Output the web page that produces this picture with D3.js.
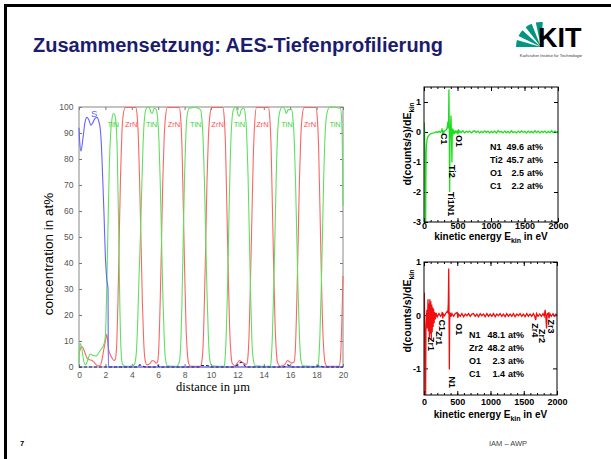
<!DOCTYPE html>
<html>
<head>
<meta charset="utf-8">
<script src="https://cdn.jsdelivr.net/npm/d3@7"></script>
<style>
    body { margin: 0; background: #fff; }
    svg { display: block; font-family: "Liberation Sans", Arial, sans-serif; }
</style>
</head>
<body>
<svg id="slide" width="611" height="459"></svg>
<script>
// ---- depth profile (concentration in at% vs distance in µm) ----
const depthTicks = [0, 2, 4, 6, 8, 10, 12, 14, 16, 18, 20];
const concTicks = [0, 10, 20, 30, 40, 50, 60, 70, 80, 90, 100];

const tinProfile = [
    [0, 1.5], [0.08, 9], [0.2, 7.5], [0.35, 2.5], [0.5, 0.8], [0.65, 2.5], [0.85, 5], [1.05, 4.5], [1.3, 4.2],
    [1.5, 5.5], [1.7, 7], [1.9, 9], [2.0, 12], [2.1, 30], [2.2, 55], [2.3, 78], [2.4, 90], [2.5, 95.5],
    [2.6, 97.5], [2.7, 97], [2.8, 94], [2.9, 82], [3.0, 55], [3.1, 22], [3.2, 5], [3.3, 1], [3.5, 0.3],
    [4.0, 0.3], [4.2, 1], [4.35, 6], [4.45, 18], [4.55, 35], [4.65, 50], [4.75, 68], [4.85, 85], [4.95, 95],
    [5.1, 99.5], [5.3, 100], [5.45, 98], [5.55, 97.5], [5.7, 99.5], [5.85, 99], [5.95, 96], [6.05, 88],
    [6.15, 72], [6.25, 50], [6.35, 28], [6.45, 12], [6.55, 3], [6.7, 0.5], [7.4, 0.3], [7.6, 2], [7.7, 8],
    [7.8, 25], [7.9, 50], [8.0, 74], [8.1, 90], [8.2, 97], [8.35, 99.5], [8.8, 99.8], [9.2, 99], [9.3, 96],
    [9.4, 88], [9.5, 72], [9.6, 50], [9.7, 28], [9.8, 12], [9.9, 3], [10.05, 0.5], [11.0, 0.3], [11.05, 2],
    [11.15, 12], [11.25, 30], [11.35, 55], [11.45, 78], [11.55, 92], [11.7, 99], [11.9, 100], [12.05, 97],
    [12.15, 96.5], [12.3, 99], [12.5, 99.5], [12.6, 97], [12.7, 90], [12.8, 75], [12.9, 52], [13.0, 28],
    [13.1, 10], [13.2, 3], [13.35, 0.5], [14.5, 0.3], [14.55, 2], [14.65, 12], [14.75, 30], [14.85, 52],
    [14.95, 75], [15.05, 90], [15.2, 98], [15.4, 100], [15.6, 99], [15.7, 97.5], [15.85, 99], [16.1, 99],
    [16.2, 96], [16.3, 88], [16.4, 72], [16.5, 50], [16.6, 28], [16.7, 12], [16.8, 3], [16.95, 0.5],
    [18.1, 0.3], [18.15, 2], [18.25, 12], [18.35, 30], [18.45, 52], [18.55, 75], [18.65, 90], [18.8, 98],
    [19.0, 100], [19.8, 99.5], [19.9, 95], [19.95, 85], [20.0, 62]
];

const zrnProfile = [
    [0, 5], [0.1, 7], [0.2, 8], [0.3, 7.5], [0.45, 5.5], [0.6, 3.5], [0.8, 2.8], [1.0, 2.5], [1.2, 1.5],
    [1.4, 0.5], [1.6, 0.5], [1.75, 3], [1.85, 6], [2.0, 10], [2.1, 12.5], [2.15, 11], [2.22, 7.5], [2.35, 5],
    [2.5, 3.5], [2.65, 2.5], [2.75, 3], [2.85, 8], [2.95, 25], [3.05, 50], [3.15, 74], [3.25, 90], [3.35, 97],
    [3.5, 99.8], [4.3, 99.8], [4.4, 97], [4.5, 88], [4.6, 70], [4.7, 48], [4.8, 25], [4.9, 10], [5.0, 3],
    [5.15, 0.8], [5.4, 1.5], [5.55, 2.5], [5.7, 2.2], [5.85, 1.5], [5.95, 2], [6.05, 8], [6.15, 25],
    [6.25, 48], [6.35, 72], [6.45, 88], [6.55, 96], [6.7, 99.8], [7.6, 99.8], [7.7, 96], [7.8, 85], [7.9, 62],
    [8.0, 38], [8.1, 17], [8.2, 6], [8.3, 1.5], [8.45, 0.3], [9.2, 0.3], [9.3, 2], [9.4, 8], [9.5, 25],
    [9.6, 48], [9.7, 72], [9.8, 88], [9.9, 96], [10.05, 99.8], [10.9, 99.8], [11.0, 96], [11.1, 85],
    [11.2, 62], [11.3, 38], [11.4, 17], [11.5, 6], [11.6, 1.5], [11.8, 0.5], [12.0, 1.5], [12.15, 2.5],
    [12.3, 2], [12.45, 1.5], [12.7, 1], [12.8, 4], [12.9, 15], [13.0, 35], [13.1, 58], [13.2, 80], [13.3, 93],
    [13.45, 99.8], [14.35, 99.8], [14.45, 96], [14.55, 85], [14.65, 62], [14.75, 38], [14.85, 17], [14.95, 6],
    [15.05, 1.5], [15.25, 0.3], [15.6, 1], [15.8, 2.5], [15.95, 2], [16.1, 1.5], [16.3, 2], [16.4, 8],
    [16.5, 25], [16.6, 48], [16.7, 72], [16.8, 88], [16.9, 96], [17.05, 99.8], [17.95, 99.8], [18.05, 96],
    [18.15, 85], [18.25, 62], [18.35, 38], [18.45, 17], [18.55, 6], [18.65, 1.5], [18.8, 0.3], [19.7, 0.3],
    [19.8, 3], [19.9, 15], [20.0, 35]
];

const substrateProfile = [
    [0, 92], [0.05, 87], [0.15, 83], [0.3, 88], [0.45, 94], [0.6, 96], [0.75, 95], [0.9, 93], [1.05, 94],
    [1.2, 95.5], [1.35, 96], [1.5, 94.5], [1.6, 92], [1.7, 85], [1.8, 72], [1.9, 58], [2.0, 42], [2.1, 34],
    [2.2, 30], [2.22, 0], [20, 0]
];

const traceProfile = [
    [0, 0], [4.4, 0], [4.6, 0.8], [4.8, 0.5], [5.0, 0], [5.8, 0], [5.95, 0.7], [6.1, 0], [9.1, 0], [9.3, 0.6],
    [9.8, 0.5], [10.0, 0], [11.7, 0], [12.0, 0.8], [12.3, 1.8], [12.5, 0.8], [12.7, 0], [15.5, 0], [15.8, 0.8],
    [16.1, 0], [17.9, 0], [18.2, 0.5], [18.5, 0], [20, 0]
];

const tinLabelDepths = [2.6, 5.5, 8.85, 12.15, 15.75, 19.4];
const zrnLabelDepths = [3.95, 7.2, 10.5, 13.9, 17.5];

// ---- AES spectra, d(counts/s)/dE vs kinetic energy in eV ----
const energyTicks = [0, 500, 1000, 1500, 2000];
const tinDerivTicks = [-3, -2, -1, 0, 1];
const zrnDerivTicks = [-1, 0, 1];

const tinSpectrum = [
    [0, 0], [4, 0.32], [8, 0.05], [12, -0.6], [16, -2.2], [20, -3.2], [24, -3.2], [28, -1.6], [32, -0.7],
    [38, -0.4], [46, -0.25], [56, -0.17], [70, -0.12], [85, -0.08], [100, -0.06], [125, -0.04], [150, -0.03],
    [180, 0.01], [200, -0.02], [225, 0.02], [245, -0.01], [262, 0.04], [270, 0.12], [276, -0.06], [284, 0.05],
    [295, -0.02], [310, 0.04], [325, 0.06], [340, 0.1], [350, 0.2], [356, 0.35], [362, 0.12], [367, 0.3],
    [372, 1.42], [377, 0.2], [383, -2.0], [388, -0.25], [395, 0.1], [403, 0.55], [408, 0.05], [417, -1.02],
    [421, -0.2], [426, 0.12], [431, -0.12], [437, 0.08], [444, -0.06], [452, 0.04], [462, -0.03], [475, 0.03],
    [488, -0.02], [500, 0.05], [507, -0.08], [513, 0.09], [520, -0.03], [530, 0.03], [555, -0.02], [580, 0.04],
    [605, -0.03], [630, 0.02], [655, -0.01], [680, 0.03], [705, -0.03], [730, 0.02], [755, 0.04], [780, -0.02],
    [805, 0.03], [830, -0.03], [855, 0.02], [880, -0.02], [905, 0.04], [930, -0.01], [955, 0.03], [980, -0.03],
    [1005, 0.02], [1030, -0.02], [1055, 0.03], [1080, -0.03], [1105, 0.04], [1130, -0.01], [1155, 0.02],
    [1180, -0.03], [1205, 0.03], [1230, -0.02], [1255, 0.02], [1280, -0.03], [1305, 0.04], [1330, -0.02],
    [1355, 0.01], [1380, -0.03], [1405, 0.03], [1430, -0.02], [1455, 0.04], [1480, -0.01], [1505, 0.02],
    [1530, -0.03], [1555, 0.03], [1580, -0.02], [1605, 0.02], [1630, -0.03], [1655, 0.04], [1680, -0.02],
    [1705, 0.03], [1730, -0.03], [1755, 0.02], [1780, -0.01], [1805, 0.03], [1830, -0.03], [1855, 0.02],
    [1880, -0.02], [1905, 0.04], [1930, -0.02], [1955, 0.03], [1980, -0.02], [2000, 0.02]
];

const zrnSpectrum = [
    [0, 0], [4, 0.42], [8, 0.1], [12, -0.5], [17, -1.6], [24, -1.6], [29, -0.3], [36, -0.05], [44, 0.1],
    [52, -0.25], [60, 0.3], [67, -0.3], [74, 0.22], [81, -0.42], [88, 0.3], [95, -0.35], [102, 0.26],
    [109, -0.45], [116, 0.2], [123, -0.32], [130, 0.15], [137, -0.22], [144, 0.12], [152, -0.15], [160, 0.06],
    [170, -0.08], [182, 0.04], [200, -0.03], [225, 0.03], [250, -0.02], [268, 0.02], [275, 0.06], [282, -0.06],
    [292, 0.02], [310, -0.01], [330, 0.04], [348, 0.07], [360, 0.05], [366, 0.25], [372, 0.88], [376, 0.2],
    [381, -1.02], [386, -0.1], [394, 0.05], [405, -0.03], [420, 0.03], [445, -0.02], [470, 0.03], [500, 0.05],
    [508, -0.05], [520, 0.02], [545, -0.02], [570, 0.03], [595, -0.03], [620, 0.02], [645, -0.01], [670, 0.03],
    [695, -0.02], [720, 0.02], [745, 0.03], [770, -0.02], [795, 0.02], [820, -0.03], [845, 0.03], [870, -0.01],
    [895, 0.02], [920, -0.03], [945, 0.03], [970, -0.02], [995, 0.02], [1020, -0.02], [1045, 0.03],
    [1070, -0.03], [1095, 0.02], [1120, -0.01], [1145, 0.03], [1170, -0.02], [1195, 0.02], [1220, -0.03],
    [1245, 0.03], [1270, -0.02], [1295, 0.02], [1320, -0.02], [1345, 0.03], [1370, -0.03], [1395, 0.02],
    [1420, -0.01], [1445, 0.03], [1470, -0.02], [1495, 0.02], [1520, -0.03], [1545, 0.03], [1570, -0.02],
    [1595, 0.02], [1620, -0.02], [1645, 0.03], [1665, -0.02], [1680, -0.09], [1692, 0.03], [1715, -0.02],
    [1740, 0.02], [1765, -0.02], [1790, 0.03], [1808, -0.02], [1822, 0.1], [1832, -0.02], [1843, -0.25],
    [1852, 0.02], [1868, 0.04], [1880, -0.06], [1892, 0.03], [1915, -0.02], [1940, 0.03], [1965, -0.02],
    [1985, 0.02], [2000, 0.01]
];

// peak labels: [name, energy (eV), value at top of label]
const tinPeakLabels = [['C1', 239, -0.03], ['O1', 463, -0.1], ['Ti2', 358, -1.1], ['Ti1N1', 343, -2.0]];
const zrnPeakLabels = [
    ['Zr1', 45, -0.41], ['Zr1', 165, -0.3], ['C1', 210, -0.08], ['O1', 466, -0.15], ['N1', 361, -1.15],
    ['Zr4', 1609, -0.15], ['Zr2', 1714, -0.26], ['Zr3', 1850, -0.08]
];

const tinComposition = [['N1', '49.6'], ['Ti2', '45.7'], ['O1', '2.5'], ['C1', '2.2']];
const zrnComposition = [['N1', '48.1'], ['Zr2', '48.2'], ['O1', '2.3'], ['C1', '1.4']];


let svg = d3.select('#slide');

// slide frame and header
svg.append('path')
    .attr('d', 'M5.5,459 V5.5 H611')
    .attr('fill', 'none')
    .attr('stroke', '#000')
    .attr('stroke-width', 3);

svg.append('text')
    .attr('x', 33)
    .attr('y', 52)
    .attr('font-size', 20)
    .attr('font-weight', 'bold')
    .attr('fill', '#1c1c6e')
    .text('Zusammensetzung: AES-Tiefenprofilierung');

// KIT logo
let logo = svg.append('g');
let fanAngles = [[180, 196], [206, 222], [232, 248], [258, 274]];
let apex = [541, 47];
fanAngles.forEach(([a0, a1]) => {
    let r = 25;
    let p0 = [apex[0] + r * Math.cos(a0 * Math.PI / 180), apex[1] + r * Math.sin(a0 * Math.PI / 180)];
    let p1 = [apex[0] + r * Math.cos(a1 * Math.PI / 180), apex[1] + r * Math.sin(a1 * Math.PI / 180)];
    logo.append('path')
        .attr('d', 'M' + apex + ' L' + p0 + ' A' + [r, r] + ' 0 0 1 ' + p1 + ' Z')
        .attr('fill', '#009682');
});
logo.append('text')
    .attr('x', 538)
    .attr('y', 47)
    .attr('font-size', 27)
    .attr('font-weight', 'bold')
    .attr('fill', '#000')
    .text('KIT');
logo.append('text')
    .attr('x', 551)
    .attr('y', 56.5)
    .attr('font-size', 4.2)
    .attr('text-anchor', 'middle')
    .attr('fill', '#333')
    .text('Karlsruher Institut für Technologie');

// footer
svg.append('text')
    .attr('x', 20).attr('y', 446)
    .attr('font-size', 7.5).attr('font-weight', 'bold')
    .text('7');
svg.append('text')
    .attr('x', 489).attr('y', 446)
    .attr('font-size', 7.5).attr('fill', '#444')
    .text('IAM – AWP');


// ---- depth profile chart ----
let main = {left: 79, right: 343, top: 107, bottom: 367};
let xDepth = d3.scaleLinear().domain([0, 20]).range([main.left, main.right]);
let yConc = d3.scaleLinear().domain([0, 100]).range([main.bottom, main.top]);

let styleMainAxis = (g) => {
    g.select('.domain').remove();
    g.selectAll('line').attr('stroke', '#777');
    g.selectAll('text')
        .attr('fill', '#555')
        .attr('font-size', 8.5)
        .attr('font-family', '"Liberation Sans Narrow", "Liberation Sans", Arial, sans-serif');
};

svg.append('g')
    .attr('transform', 'translate(0,' + main.bottom + ')')
    .call(d3.axisBottom(xDepth).tickValues(depthTicks).tickSizeInner(-3).tickSizeOuter(0).tickPadding(4.5))
    .call(styleMainAxis);
svg.append('g')
    .attr('transform', 'translate(0,' + main.top + ')')
    .call(d3.axisTop(xDepth).tickValues(depthTicks).tickSizeInner(-3).tickSizeOuter(0).tickFormat(''))
    .call(styleMainAxis);
svg.append('g')
    .attr('transform', 'translate(' + main.left + ',0)')
    .call(d3.axisLeft(yConc).tickValues(concTicks).tickSizeInner(-3).tickSizeOuter(0).tickPadding(5.5))
    .call(styleMainAxis);
svg.append('g')
    .attr('transform', 'translate(' + main.right + ',0)')
    .call(d3.axisRight(yConc).tickValues(concTicks).tickSizeInner(-3).tickSizeOuter(0).tickFormat(''))
    .call(styleMainAxis);

svg.append('rect')
    .attr('x', main.left).attr('y', main.top)
    .attr('width', main.right - main.left).attr('height', main.bottom - main.top)
    .attr('fill', 'none').attr('stroke', '#888');

let profileLine = d3.line()
    .x(d => xDepth(d[0]))
    .y(d => yConc(d[1]))
    .curve(d3.curveMonotoneX);

[[zrnProfile, '#ff6464'], [tinProfile, '#5fe05f'], [substrateProfile, '#6464ff']].forEach(([data, color]) => {
    svg.append('path')
        .datum(data)
        .attr('d', profileLine)
        .attr('fill', 'none')
        .attr('stroke', color)
        .attr('stroke-width', 1.1);
});
svg.append('path')
    .datum(traceProfile)
    .attr('d', profileLine)
    .attr('fill', 'none')
    .attr('stroke', '#1a1a8c')
    .attr('stroke-width', 1.1)
    .attr('stroke-dasharray', '3,2');

// phase labels
svg.append('text')
    .attr('x', xDepth(1.14)).attr('y', yConc(97.5))
    .attr('dy', '0.35em')
    .attr('text-anchor', 'middle')
    .attr('font-size', 9.5)
    .attr('fill', '#6464ff')
    .text('S');
svg.selectAll('.tin-label')
    .data(tinLabelDepths)
    .enter()
    .append('text')
    .attr('x', d => xDepth(d)).attr('y', yConc(93.5))
    .attr('dy', '0.35em')
    .attr('text-anchor', 'middle')
    .attr('font-size', 7.5)
    .attr('fill', '#3cd43c')
    .text('TiN');
svg.selectAll('.zrn-label')
    .data(zrnLabelDepths)
    .enter()
    .append('text')
    .attr('x', d => xDepth(d)).attr('y', yConc(93.5))
    .attr('dy', '0.35em')
    .attr('text-anchor', 'middle')
    .attr('font-size', 7.5)
    .attr('fill', '#ff5050')
    .text('ZrN');

// axis titles
svg.append('text')
    .attr('transform', 'translate(213,391)')
    .attr('text-anchor', 'middle')
    .attr('font-family', '"Liberation Serif", "Times New Roman", serif')
    .attr('font-size', 12.5)
    .text('distance in µm');
svg.append('text')
    .attr('transform', 'translate(53,254) rotate(-90)')
    .attr('text-anchor', 'middle')
    .attr('font-size', 13.5)
    .text('concentration in at%');


// ---- spectra ----
let drawSpectrum = (cfg) => {
    let x = d3.scaleLinear().domain([0, 2000]).range([cfg.left, cfg.right]);
    let y = d3.scaleLinear().domain(cfg.yDomain).range([cfg.bottom, cfg.top]);
    let g = svg.append('g');
    let plain = (d) => String(d);

    let styleAxis = (a) => {
        a.select('.domain').remove();
        a.selectAll('line').attr('stroke', '#000');
        a.selectAll('text')
            .attr('fill', '#000')
            .attr('font-size', 9)
            .attr('font-weight', 'bold')
            .attr('font-family', '"Liberation Sans", Arial, sans-serif');
    };
    let minor = d3.range(0, 2001, 100);

    g.append('g')
        .attr('transform', 'translate(0,' + cfg.bottom + ')')
        .call(d3.axisBottom(x).tickValues(energyTicks).tickFormat(plain)
            .tickSizeInner(-4).tickSizeOuter(0).tickPadding(cfg.xPad))
        .call(styleAxis);
    g.append('g')
        .attr('transform', 'translate(0,' + cfg.bottom + ')')
        .call(d3.axisBottom(x).tickValues(minor).tickSizeInner(-2).tickSizeOuter(0).tickFormat(''))
        .call(styleAxis);
    g.append('g')
        .attr('transform', 'translate(0,' + cfg.top + ')')
        .call(d3.axisTop(x).tickValues(minor).tickSizeInner(-2).tickSizeOuter(0).tickFormat(''))
        .call(styleAxis);
    g.append('g')
        .attr('transform', 'translate(0,' + cfg.top + ')')
        .call(d3.axisTop(x).tickValues(energyTicks).tickSizeInner(-4).tickSizeOuter(0).tickFormat(''))
        .call(styleAxis);
    g.append('g')
        .attr('transform', 'translate(' + cfg.left + ',0)')
        .call(d3.axisLeft(y).tickValues(cfg.yTicks).tickFormat(plain)
            .tickSizeInner(-4).tickSizeOuter(0).tickPadding(3))
        .call(styleAxis);
    g.append('g')
        .attr('transform', 'translate(' + cfg.right + ',0)')
        .call(d3.axisRight(y).tickValues(cfg.yTicks).tickSizeInner(-4).tickSizeOuter(0).tickFormat(''))
        .call(styleAxis);

    g.append('clipPath')
        .attr('id', cfg.id)
        .append('rect')
        .attr('x', cfg.left).attr('y', cfg.top)
        .attr('width', cfg.right - cfg.left).attr('height', cfg.bottom - cfg.top);

    g.append('path')
        .datum(cfg.data)
        .attr('clip-path', 'url(#' + cfg.id + ')')
        .attr('d', d3.line().x(d => x(d[0])).y(d => y(d[1])))
        .attr('fill', 'none')
        .attr('stroke', cfg.color)
        .attr('stroke-width', 1.3);

    g.append('rect')
        .attr('x', cfg.left).attr('y', cfg.top)
        .attr('width', cfg.right - cfg.left).attr('height', cfg.bottom - cfg.top)
        .attr('fill', 'none').attr('stroke', '#000');

    // peak names, written downwards
    g.selectAll('.peak')
        .data(cfg.peaks)
        .enter()
        .append('text')
        .attr('transform', d => 'translate(' + x(d[1]) + ',' + y(d[2]) + ') rotate(90)')
        .attr('dy', '-0.1em')
        .attr('font-size', 9)
        .attr('font-weight', 'bold')
        .text(d => d[0]);

    // composition table
    cfg.comp.forEach((row, i) => {
        let ty = cfg.compY + i * cfg.compStep;
        g.append('text').attr('x', cfg.compX).attr('y', ty)
            .attr('font-size', 9).attr('font-weight', 'bold').text(row[0]);
        g.append('text').attr('x', cfg.compValX).attr('y', ty)
            .attr('text-anchor', 'end')
            .attr('font-size', 9).attr('font-weight', 'bold').text(row[1]);
        g.append('text').attr('x', cfg.compValX + 3).attr('y', ty)
            .attr('font-size', 9).attr('font-weight', 'bold').text('at%');
    });

    // axis titles
    let xt = g.append('text')
        .attr('x', (cfg.left + cfg.right) / 2).attr('y', cfg.xTitleY)
        .attr('text-anchor', 'middle')
        .attr('font-size', 10).attr('font-weight', 'bold');
    xt.append('tspan').text('kinetic energy E');
    xt.append('tspan').attr('font-size', 7).attr('dy', 2.5).text('kin');
    xt.append('tspan').attr('dy', -2.5).text(' in eV');

    let yt = g.append('text')
        .attr('transform', 'translate(411,' + cfg.yTitleY + ') rotate(-90)')
        .attr('text-anchor', 'middle')
        .attr('font-size', 10.5).attr('font-weight', 'bold');
    yt.append('tspan').text('d(counts/s)/dE');
    yt.append('tspan').attr('font-size', 7).attr('dy', 2.5).text('kin');
};

drawSpectrum({
    id: 'clip-tin', left: 424, right: 558, top: 87, bottom: 222,
    yDomain: [-3, 1.5], yTicks: tinDerivTicks, data: tinSpectrum, color: '#1fdc1f',
    peaks: tinPeakLabels, comp: tinComposition, compX: 490, compValX: 524, compY: 149.5, compStep: 13,
    xPad: 1, xTitleY: 240, yTitleY: 144
});

drawSpectrum({
    id: 'clip-zrn', left: 424, right: 557, top: 262, bottom: 395,
    yDomain: [-1.5, 1], yTicks: zrnDerivTicks, data: zrnSpectrum, color: '#ee1010',
    peaks: zrnPeakLabels, comp: zrnComposition, compX: 469, compValX: 505, compY: 337.5, compStep: 13.3,
    xPad: 4, xTitleY: 418, yTitleY: 311
});
</script>
</body>
</html>
